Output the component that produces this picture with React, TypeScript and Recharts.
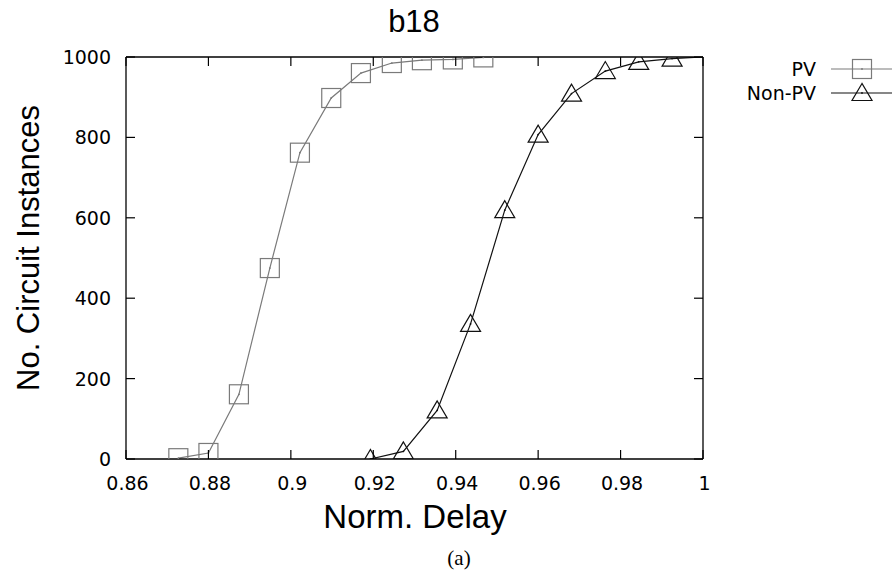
import React from "react";
import { LineChart, Line, XAxis, YAxis } from "recharts";

const pvDelay = [0.8727, 0.88, 0.8874, 0.8949, 0.9022, 0.9098, 0.917, 0.9245, 0.9318, 0.9393, 0.9467];
const pvCount = [2, 15, 161, 475, 762, 898, 960, 985, 992, 994, 999];
const nonPvDelay = [0.9193, 0.9273, 0.9355, 0.9436, 0.9519, 0.96, 0.9681, 0.9763, 0.9844, 0.9925, 1.0];
const nonPvCount = [0, 19, 121, 336, 619, 807, 909, 965, 988, 996, 1000];
const nonPvMarked = [true, true, true, true, true, true, true, true, true, true, false];

const xTicks = [0.86, 0.88, 0.9, 0.92, 0.94, 0.96, 0.98, 1];
const yTicks = [0, 200, 400, 600, 800, 1000];
const xTickLabels = ["0.86", "0.88", "0.9", "0.92", "0.94", "0.96", "0.98", "1"];

const seriesNames = ["PV", "Non-PV"];
const titleText = "b18";
const xLabel = "Norm. Delay";
const yLabel = "No. Circuit Instances";
const caption = "(a)";

const pvRows = pvDelay.map((x, i) => ({ x, y: pvCount[i], m: true }));
const nonPvRows = nonPvDelay.map((x, i) => ({ x, y: nonPvCount[i], m: nonPvMarked[i] }));

const PV_COLOR = "#7a7a7a";
const NPV_COLOR = "#111111";
const TICK_FONT = "'DejaVu Sans', sans-serif";
const TICK_LEN = 9;

const Square = ({ cx, cy, color }: any) => (
  <g>
    <rect x={cx - 9.5} y={cy - 9.5} width={19} height={19} fill="none" stroke={color} strokeWidth={1.2} />
    <circle cx={cx} cy={cy} r={0.9} fill={color} />
  </g>
);

const Triangle = ({ cx, cy, color }: any) => (
  <g>
    <polygon
      points={`${cx},${cy - 9.5} ${cx - 10},${cy + 7.5} ${cx + 10},${cy + 7.5}`}
      fill="none"
      stroke={color}
      strokeWidth={1.2}
    />
    <circle cx={cx} cy={cy} r={0.9} fill={color} />
  </g>
);

const pvDot = (p: any) => {
  const key = `pv-${p.index}`;
  if (!p.payload || !p.payload.m || p.cx == null) return <g key={key} />;
  return <Square key={key} cx={p.cx} cy={p.cy} color={PV_COLOR} />;
};
const npvDot = (p: any) => {
  const key = `npv-${p.index}`;
  if (!p.payload || !p.payload.m || p.cx == null) return <g key={key} />;
  return <Triangle key={key} cx={p.cx} cy={p.cy} color={NPV_COLOR} />;
};

const BottomTick = (p: any) => {
  const { x, y, payload, index } = p;
  return (
    <g>
      <line x1={x} y1={y} x2={x} y2={y - TICK_LEN} stroke="#000" strokeWidth={1.2} />
      <text x={x + 1.5} y={y + 31} textAnchor="middle" fontFamily={TICK_FONT} fontSize={19} fill="#000">
        {xTickLabels[index] ?? String(payload.value)}
      </text>
    </g>
  );
};
const TopTick = (p: any) => {
  const { x, y } = p;
  return <line x1={x} y1={y} x2={x} y2={y + TICK_LEN} stroke="#000" strokeWidth={1.2} />;
};
const LeftTick = (p: any) => {
  const { x, y, payload } = p;
  return (
    <g>
      <line x1={x} y1={y} x2={x + TICK_LEN} y2={y} stroke="#000" strokeWidth={1.2} />
      <text x={x - 15} y={y + 7} textAnchor="end" fontFamily={TICK_FONT} fontSize={19} fill="#000">
        {String(payload.value)}
      </text>
    </g>
  );
};
const RightTick = (p: any) => {
  const { x, y } = p;
  return <line x1={x} y1={y} x2={x - TICK_LEN} y2={y} stroke="#000" strokeWidth={1.2} />;
};

const LegendBox = () => (
  <svg width={193} height={60} style={{ position: "absolute", left: 700, top: 55, overflow: "visible" }}>
    <text x={116} y={14 + 7} textAnchor="end" fontFamily={TICK_FONT} fontSize={19} fill="#000">
      {seriesNames[0]}
    </text>
    <line x1={131} y1={14} x2={192} y2={14} stroke={PV_COLOR} strokeWidth={1.2} />
    <Square cx={162} cy={14} color={PV_COLOR} />
    <text x={116} y={38 + 7} textAnchor="end" fontFamily={TICK_FONT} fontSize={19} fill="#000">
      {seriesNames[1]}
    </text>
    <line x1={131} y1={38} x2={192} y2={38} stroke={NPV_COLOR} strokeWidth={1.2} />
    <Triangle cx={162} cy={38} color={NPV_COLOR} />
  </svg>
);

const textStyle: React.CSSProperties = {
  position: "absolute",
  fontFamily: "'Liberation Sans', Arial, sans-serif",
  color: "#000",
  whiteSpace: "nowrap",
  lineHeight: 1,
};

export default function App() {
  return (
    <div style={{ position: "absolute", left: 0, top: 0, width: 893, height: 573, background: "#fff" }}>
      <LineChart
        width={893}
        height={573}
        margin={{ top: 47, right: 180, bottom: 84, left: 66 }}
        style={{ position: "absolute", left: 0, top: 0 }}
      >
        <XAxis
          xAxisId="b"
          dataKey="x"
          type="number"
          domain={[0.86, 1]}
          allowDataOverflow
          ticks={xTicks}
          interval={0}
          height={30}
          tickSize={0}
          tickMargin={0}
          tickLine={false}
          tick={<BottomTick />}
          axisLine={{ stroke: "#000", strokeWidth: 1.3 }}
        />
        <XAxis
          xAxisId="t"
          orientation="top"
          dataKey="x"
          type="number"
          domain={[0.86, 1]}
          allowDataOverflow
          ticks={xTicks}
          interval={0}
          height={10}
          tickSize={0}
          tickMargin={0}
          tickLine={false}
          tick={<TopTick />}
          axisLine={{ stroke: "#000", strokeWidth: 1.3 }}
        />
        <YAxis
          yAxisId="l"
          type="number"
          domain={[0, 1000]}
          allowDataOverflow
          ticks={yTicks}
          interval={0}
          width={60}
          tickSize={0}
          tickMargin={0}
          tickLine={false}
          tick={<LeftTick />}
          axisLine={{ stroke: "#000", strokeWidth: 1.3 }}
        />
        <YAxis
          yAxisId="r"
          orientation="right"
          type="number"
          domain={[0, 1000]}
          allowDataOverflow
          ticks={yTicks}
          interval={0}
          width={10}
          tickSize={0}
          tickMargin={0}
          tickLine={false}
          tick={<RightTick />}
          axisLine={{ stroke: "#000", strokeWidth: 1.3 }}
        />
        <Line
          xAxisId="b"
          yAxisId="l"
          data={pvRows}
          dataKey="y"
          name={seriesNames[0]}
          type="linear"
          stroke={PV_COLOR}
          strokeWidth={1.2}
          dot={pvDot}
          activeDot={false}
          isAnimationActive={false}
        />
        <Line
          xAxisId="b"
          yAxisId="l"
          data={nonPvRows}
          dataKey="y"
          name={seriesNames[1]}
          type="linear"
          stroke={NPV_COLOR}
          strokeWidth={1.2}
          dot={npvDot}
          activeDot={false}
          isAnimationActive={false}
        />
      </LineChart>
      <LegendBox />
      <div style={{ ...textStyle, left: 414, top: 6, fontSize: 31, transform: "translateX(-50%)" }}>{titleText}</div>
      <div style={{ ...textStyle, left: 415, top: 500, fontSize: 33, transform: "translateX(-50%)" }}>{xLabel}</div>
      <div
        style={{
          ...textStyle,
          left: 28,
          top: 248,
          fontSize: 31,
          transform: "translate(-50%, -50%) rotate(-90deg)",
        }}
      >
        {yLabel}
      </div>
      <div
        style={{
          ...textStyle,
          left: 459,
          top: 548,
          fontSize: 21,
          fontFamily: "'Liberation Serif', 'Times New Roman', serif",
          transform: "translateX(-50%)",
        }}
      >
        {caption}
      </div>
    </div>
  );
}
